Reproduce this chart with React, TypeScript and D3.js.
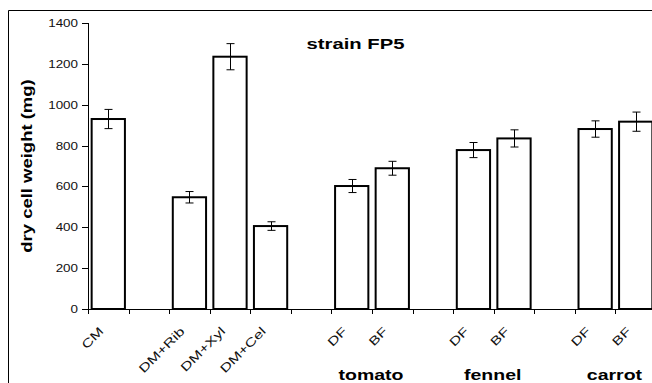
import { useEffect, useRef } from "react";
import * as d3 from "d3";

// slot labels along the x axis (blank slots are gaps between groups)
const slots = ["CM", "", "DM+Rib", "DM+Xyl", "DM+Cel", "", "DF", "BF", "", "DF", "BF", "", "DF", "BF"];
const values = [930, null, 547, 1235, 406, null, 602, 689, null, 778, 835, null, 881, 917];
const errors = [47, null, 28, 64, 21, null, 32, 34, null, 37, 42, null, 40, 47];
const groups = [
  { name: "tomato", from: 6, to: 7 },
  { name: "fennel", from: 9, to: 10 },
  { name: "carrot", from: 12, to: 13 },
];
const yTicks = [0, 200, 400, 600, 800, 1000, 1200, 1400];

export default function App() {
  const svgRef = useRef<SVGSVGElement>(null);

  useEffect(() => {
    const width = 652;
    const height = 383;
    const svg = d3.select(svgRef.current);
    svg.selectAll("*").remove();

    const font = "'Liberation Sans', Arial, sans-serif";
    const x0 = 88, x1 = 656, yTop = 23, yBot = 309;

    // outer frame (cropped on right and bottom)
    svg.append("path")
      .attr("d", `M8.5,${height} V10.5 H${width}`)
      .attr("fill", "none").attr("stroke", "#000").attr("stroke-width", 1);

    const x = d3.scaleBand<number>()
      .domain(d3.range(slots.length))
      .range([x0, x1])
      .paddingInner(0.18)
      .paddingOuter(0.09);
    const step = x.step();
    const y = d3.scaleLinear().domain([0, 1400]).range([yBot, yTop]);

    // the source renders its text wide, so stretch along the text direction
    const label = (tf: string, txt: string, size: number, sx: number, anchor: string, bold = false) =>
      svg.append("text")
        .attr("transform", `${tf} scale(${sx},1)`)
        .attr("text-anchor", anchor)
        .attr("font-family", font).attr("font-size", size)
        .attr("font-weight", bold ? "bold" : "normal")
        .attr("fill", bold ? "#000" : "#111")
        .text(txt);

    // y axis
    svg.append("line")
      .attr("x1", x0 + 0.5).attr("x2", x0 + 0.5)
      .attr("y1", yTop).attr("y2", yBot)
      .attr("stroke", "#000");
    yTicks.forEach((t) => {
      svg.append("line")
        .attr("x1", x0 - 6).attr("x2", x0)
        .attr("y1", Math.round(y(t)) + 0.5).attr("y2", Math.round(y(t)) + 0.5)
        .attr("stroke", "#000");
      label(`translate(${x0 - 10},${y(t) + 4})`, String(t), 11, 1.22, "end");
    });

    // x axis
    svg.append("line")
      .attr("x1", x0).attr("x2", x1)
      .attr("y1", yBot + 0.5).attr("y2", yBot + 0.5)
      .attr("stroke", "#000");
    d3.range(slots.length + 1).forEach((i) => {
      const xx = Math.round(x0 + i * step) + 0.5;
      svg.append("line")
        .attr("x1", xx).attr("x2", xx)
        .attr("y1", yBot).attr("y2", yBot + 5)
        .attr("stroke", "#000");
    });

    // bars
    slots.forEach((s, i) => {
      const v = values[i];
      if (v == null) return;
      const bx = x(i)!;
      const bw = x.bandwidth();
      svg.append("rect")
        .attr("x", bx).attr("y", y(v))
        .attr("width", bw).attr("height", yBot - y(v))
        .attr("fill", "#fff").attr("stroke", "#000").attr("stroke-width", 2);
      const e = errors[i]!;
      const cx = Math.round(bx + bw / 2) + 0.5;
      svg.append("path")
        .attr("d", `M${cx},${y(v + e)} V${y(v - e)} M${cx - 4},${y(v + e)} H${cx + 4} M${cx - 4},${y(v - e)} H${cx + 4}`)
        .attr("fill", "none").attr("stroke", "#000").attr("stroke-width", 1);
    });

    // rotated slot labels
    slots.forEach((s, i) => {
      if (!s) return;
      const cx = x(i)! + x.bandwidth() / 2;
      label(`translate(${cx - 4},${yBot + 23}) rotate(-45)`, s, 12, 1.35, "end");
    });

    // group labels
    groups.forEach((g) => {
      const cx = x0 + (g.to) * step - 1;
      label(`translate(${cx},380)`, g.name, 15, 1.3, "middle", true);
    });

    // title
    label(`translate(355.5,49)`, "strain FP5", 14, 1.45, "middle", true);

    // y label
    label(`translate(32,166) rotate(-90)`, "dry cell weight (mg)", 14, 1.32, "middle", true);
  }, []);

  return (
    <svg
      ref={svgRef}
      width={652}
      height={383}
      style={{ position: "absolute", left: 0, top: 0, background: "#fff" }}
    />
  );
}
